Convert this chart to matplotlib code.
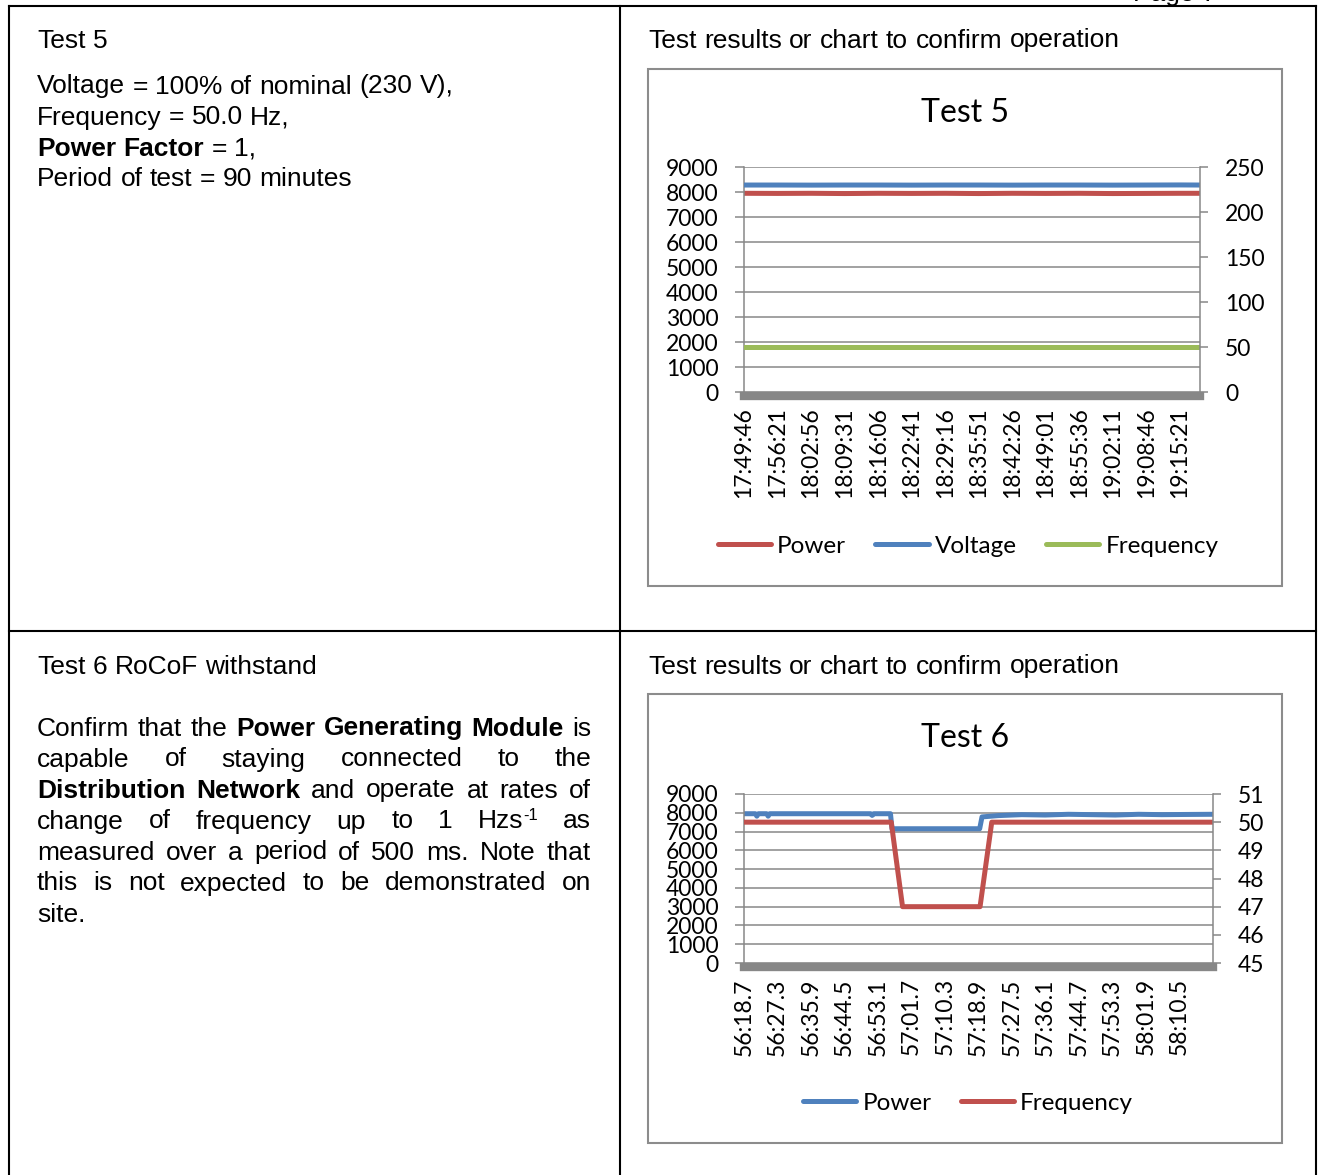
import matplotlib
matplotlib.use('Agg')
import matplotlib.pyplot as plt
from matplotlib.lines import Line2D
from matplotlib.patches import Rectangle

# ---------- CONFIG ----------
W, H = 1321, 1175
DOC_FONT = ['Liberation Sans', 'DejaVu Sans']
CHART_FONT = ['Lato', 'DejaVu Sans']
GRID = '#878787'
RED = '#C0504D'
BLUE = '#4F81BD'
GREEN = '#9BBB59'
DOC_SIZE = 19
# ----------------------------

# Test 5 readings (time of day, power W, voltage V, frequency Hz)
time5 = ['17:49:46', '17:56:21', '18:02:56', '18:09:31', '18:16:06', '18:22:41',
         '18:29:16', '18:35:51', '18:42:26', '18:49:01', '18:55:36', '19:02:11',
         '19:08:46', '19:15:21', '19:19:17']
power5 = [7960, 7955, 7960, 7950, 7960, 7955, 7960, 7950, 7960, 7955, 7960, 7950,
          7955, 7960, 7960]
voltage5 = [230.3, 230.3, 230.2, 230.3, 230.3, 230.2, 230.3, 230.3, 230.2, 230.3,
            230.3, 230.2, 230.3, 230.4, 230.3]
freq5 = [50.0, 50.0, 50.0, 50.0, 50.0, 50.0, 50.0, 50.0, 50.0, 50.0, 50.0, 50.0,
         50.0, 50.0, 50.0]
ticks5 = ['17:49:46', '17:56:21', '18:02:56', '18:09:31', '18:16:06', '18:22:41',
          '18:29:16', '18:35:51', '18:42:26', '18:49:01', '18:55:36', '19:02:11',
          '19:08:46', '19:15:21']

# Test 6 readings (mm:ss.s)
time6_p = ['56:18.7', '56:21.6', '56:22.0', '56:22.4', '56:24.5', '56:24.9', '56:25.3',
           '56:40.0', '56:51.2', '56:51.6', '56:52.0', '56:56.3', '56:56.7', '57:19.2',
           '57:19.8', '57:24.0', '57:30.0', '57:36.0', '57:42.0', '57:48.0', '57:54.0',
           '58:00.0', '58:06.0', '58:12.0', '58:19.1']
power6 = [7950, 7950, 7820, 7950, 7950, 7820, 7950,
          7950, 7950, 7860, 7950, 7950, 7150, 7150,
          7780, 7850, 7900, 7880, 7920, 7900, 7880,
          7920, 7900, 7910, 7920]
time6_f = ['56:18.7', '56:56.5', '56:59.4', '57:19.3', '57:22.3', '58:19.1']
freq6 = [50.0, 50.0, 47.0, 47.0, 50.0, 50.0]
ticks6 = ['56:18.7', '56:27.3', '56:35.9', '56:44.5', '56:53.1', '57:01.7', '57:10.3',
          '57:18.9', '57:27.5', '57:36.1', '57:44.7', '57:53.3', '58:01.9', '58:10.5']


def secs(s):
    return sum(float(p) * 60 ** i for i, p in enumerate(reversed(s.split(':'))))


def fx(x):
    return x / W


def fy(y):
    return 1 - y / H


plt.rcParams['font.family'] = CHART_FONT
fig = plt.figure(figsize=(W / 100, H / 100), dpi=100)
renderer = fig.canvas.get_renderer()


# ---------- document text ----------
def seg_text(txt, x, y, bold=False, size=DOC_SIZE, rise=0):
    t = fig.text(fx(x), fy(y - rise), txt, family=DOC_FONT, fontsize=size,
                 fontweight='bold' if bold else 'normal', va='baseline', ha='left')
    return t, t.get_window_extent(renderer).width


def word_width(word):
    total = 0
    for txt, bold, size, rise in word:
        t, w = seg_text(txt, 0, -100, bold, size, rise)
        t.remove()
        total += w
    return total


space_t, sw = seg_text('a a', 0, -100)
space_t.remove()
a_t, aw = seg_text('aa', 0, -100)
a_t.remove()
SPACE = sw - aw


def draw_words(words, x0, y, x1=None):
    widths = [word_width(w) for w in words]
    if x1 is not None and len(words) > 1:
        gap = (x1 - x0 - sum(widths)) / (len(words) - 1)
    else:
        gap = SPACE
    x = x0
    for word, wd in zip(words, widths):
        xx = x
        for txt, bold, size, rise in word:
            _, w = seg_text(txt, xx, y, bold, size, rise)
            xx += w
        x += wd + gap


def parse(line):
    # '*' toggles bold, words split on spaces
    words, bold = [], False
    for token in line.split(' '):
        segs = []
        buf = ''
        for ch in token:
            if ch == '*':
                if buf:
                    segs.append((buf, bold, DOC_SIZE, 0))
                buf = ''
                bold = not bold
            else:
                buf += ch
        if buf:
            segs.append((buf, bold, DOC_SIZE, 0))
        words.append(segs)
    return words


BASE = 9.5
draw_words(parse('Test 5'), 37, 38 + BASE)
test5_lines = ['Voltage = 100% of nominal (230 V),', 'Frequency = 50.0 Hz,',
               '*Power Factor* = 1,', 'Period of test = 90 minutes']
for i, line in enumerate(test5_lines):
    draw_words(parse(line), 37, 84 + 31 * i + BASE)

draw_words(parse('Test results or chart to confirm operation'), 648, 38 + BASE)
draw_words(parse('Test results or chart to confirm operation'), 648, 664 + BASE)
draw_words(parse('Test 6 RoCoF withstand'), 37, 664 + BASE)

para = ['Confirm that the *Power Generating Module* is',
        'capable of staying connected to the',
        '*Distribution Network* and operate at rates of',
        'change of frequency up to 1 HZS as',
        'measured over a period of 500 ms. Note that',
        'this is not expected to be demonstrated on',
        'site.']
for i, line in enumerate(para):
    words = parse(line)
    words = [[('Hzs', False, DOC_SIZE, 0), ('-1', False, 12, 8)] if w and w[0][0] == 'HZS' else w
             for w in words]
    y = 726 + 31 * i + BASE
    if i < len(para) - 1:
        draw_words(words, 37, y, 591)
    else:
        draw_words(words, 37, y)

# page header, cut off by the top edge as in the scanned page
fig.text(fx(1175), fy(1.5), 'Page 7', family=DOC_FONT, fontsize=DOC_SIZE,
         ha='center', va='baseline')

# table rules
for (xa, ya, xb, yb) in [(9, 6, 1316, 6), (9, 631, 1316, 631), (9, 6, 9, 1175),
                         (620, 6, 620, 1175), (1316, 6, 1316, 1175)]:
    fig.add_artist(Line2D([fx(xa), fx(xb)], [fy(ya), fy(yb)], color='black', lw=1.5,
                          transform=fig.transFigure))

# chart frames
for (xa, ya, xb, yb) in [(648, 69, 1282, 586), (648, 694, 1282, 1143)]:
    fig.add_artist(Rectangle((fx(xa), fy(yb)), fx(xb) - fx(xa), fy(ya) - fy(yb),
                             transform=fig.transFigure, fill=False, edgecolor='#8c8c8c', lw=1.5))


# ---------- charts ----------
def style(ax, ax2, xmax, right_ticks, right_lim, xticks, xlabels):
    ax.set_xlim(0, xmax)
    ax.set_ylim(0, 9000)
    ax.set_yticks(range(0, 9001, 1000))
    ax.grid(axis='y', color=GRID, lw=1.1)
    ax.grid(axis='x', visible=False)
    ax.set_axisbelow(True)
    for s in ['top', 'right']:
        ax.spines[s].set_visible(False)
    ax.spines['left'].set_color(GRID)
    ax.spines['left'].set_linewidth(1.1)
    ax.spines['bottom'].set_color(GRID)
    ax.spines['bottom'].set_linewidth(6.0)
    ax.spines['bottom'].set_position(('outward', 3.0))
    ax.set_xticks(xticks)
    ax.set_xticklabels(xlabels, rotation=90)
    ax.tick_params(axis='x', length=0, pad=8, labelsize=16.5)
    ax.tick_params(axis='y', length=6.5, width=1.1, color=GRID, pad=12, labelsize=16.5)
    ax2.set_ylim(*right_lim)
    ax2.set_yticks(right_ticks)
    for s in ['top', 'left', 'bottom']:
        ax2.spines[s].set_visible(False)
    ax2.spines['right'].set_color(GRID)
    ax2.spines['right'].set_linewidth(1.1)
    ax2.tick_params(axis='y', length=6, width=1.1, color=GRID, pad=12, labelsize=16.5)


LW = 3.6

# Test 5
x5 = [secs(t) - secs(time5[0]) for t in time5]
ax = fig.add_axes([fx(744), fy(392.3), fx(1200) - fx(744), fy(167.3) - fy(392.3)])
ax2 = ax.twinx()
l1, = ax.plot(x5, power5, color=RED, lw=LW, solid_capstyle='round', label='Power')
l2, = ax2.plot(x5, voltage5, color=BLUE, lw=LW, solid_capstyle='round', label='Voltage')
l3, = ax2.plot(x5, freq5, color=GREEN, lw=LW, solid_capstyle='round', label='Frequency')
style(ax, ax2, x5[-1], range(0, 251, 50), (0, 250),
      [secs(t) - secs(time5[0]) for t in ticks5], ticks5)
fig.text(fx(965), fy(113), 'Test 5', fontsize=23, ha='center', va='center')
fig.legend(handles=[l1, l2, l3], loc='center', bbox_to_anchor=(fx(968), fy(546)),
           bbox_transform=fig.transFigure, ncol=3, frameon=False, fontsize=17.5,
           handlelength=2.2, handletextpad=0.25, columnspacing=1.2)

# Test 6
t0 = secs(ticks6[0])
xp6 = [secs(t) - t0 for t in time6_p]
xf6 = [secs(t) - t0 for t in time6_f]
ax = fig.add_axes([fx(744), fy(963), fx(1213) - fx(744), fy(794) - fy(963)])
ax2 = ax.twinx()
m1, = ax.plot(xp6, power6, color=BLUE, lw=LW, solid_capstyle='round', label='Power')
m2, = ax2.plot(xf6, freq6, color=RED, lw=LW, solid_capstyle='round', label='Frequency')
style(ax, ax2, xp6[-1], range(45, 52), (45, 51),
      [secs(t) - t0 for t in ticks6], ticks6)
fig.text(fx(965), fy(738), 'Test 6', fontsize=23, ha='center', va='center')
fig.legend(handles=[m1, m2], loc='center', bbox_to_anchor=(fx(968), fy(1103)),
           bbox_transform=fig.transFigure, ncol=2, frameon=False, fontsize=17.5,
           handlelength=2.2, handletextpad=0.25, columnspacing=1.2)

fig.savefig('out.png', dpi=100)
